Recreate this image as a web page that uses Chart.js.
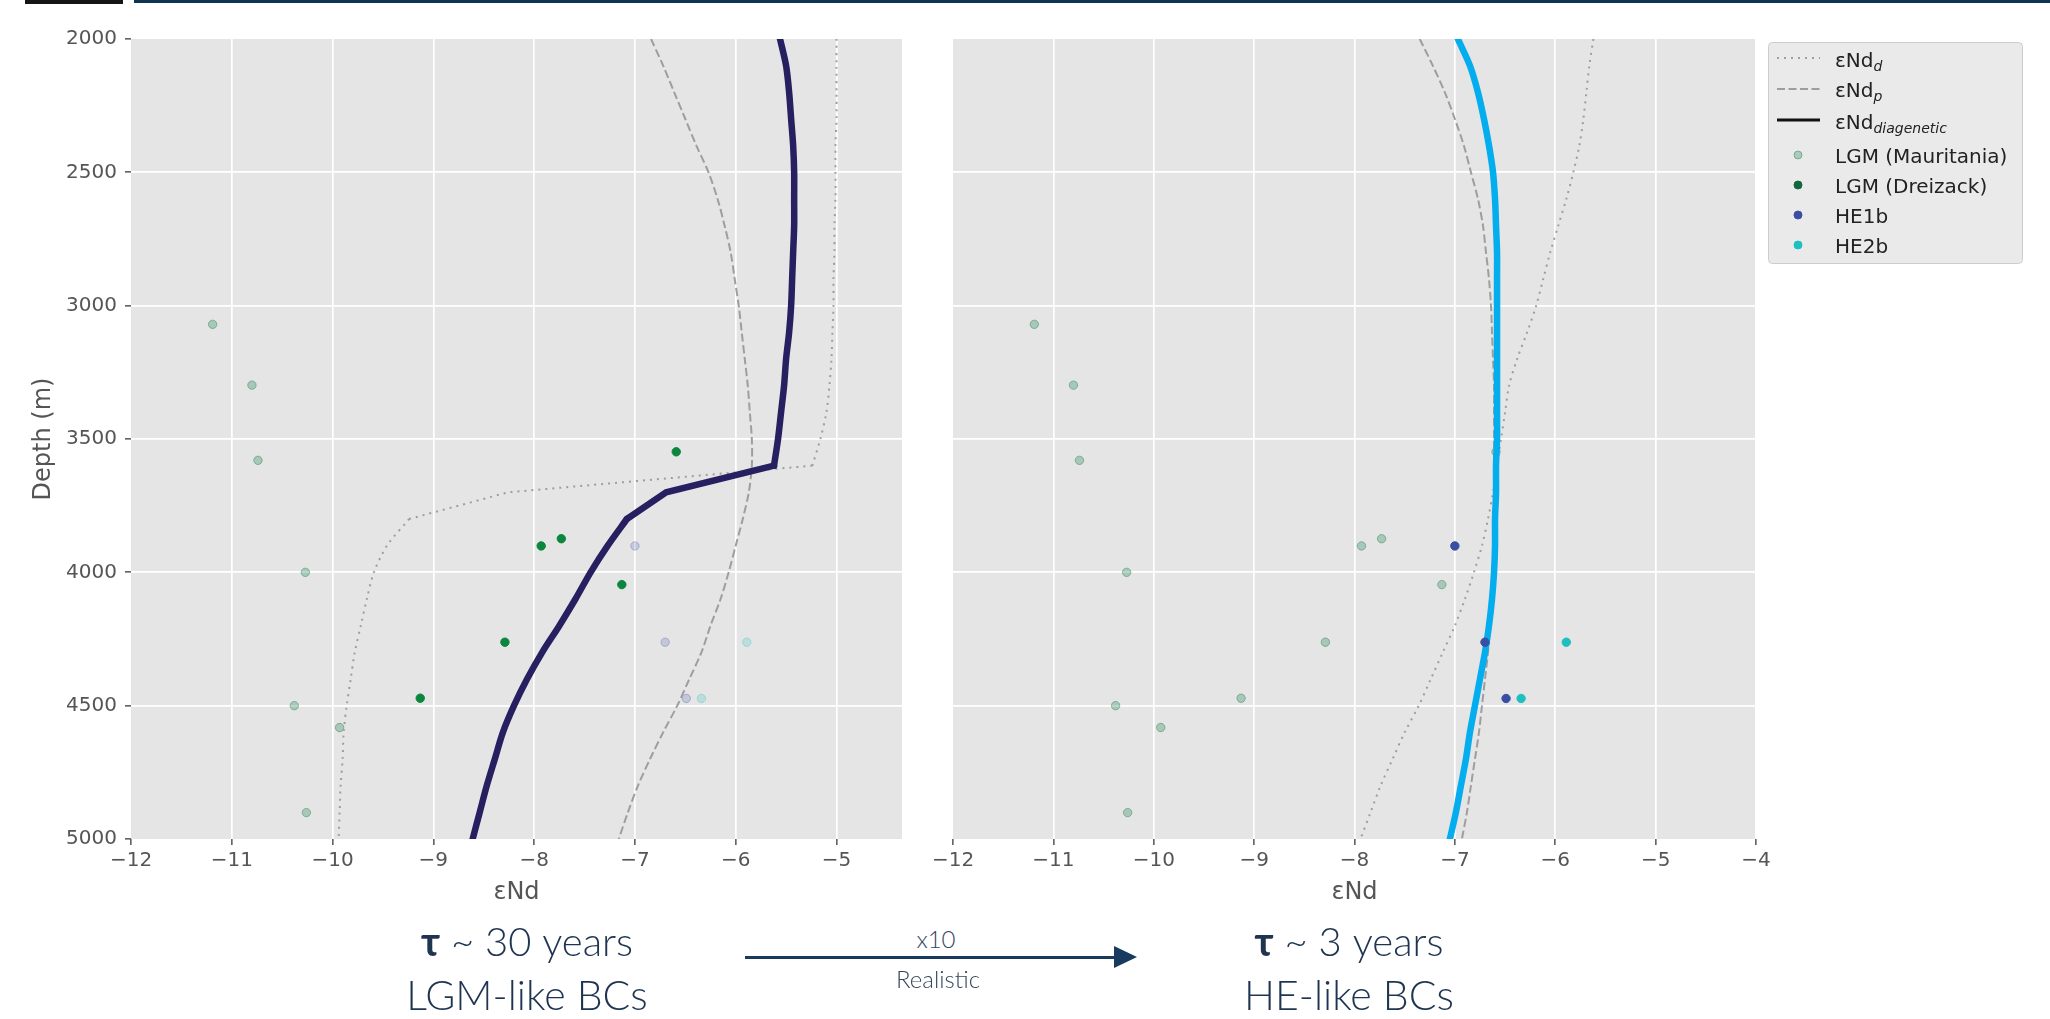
<!DOCTYPE html>
<html>
<head>
    <meta charset="utf-8" />
    <style>
        body { margin: 0; width: 2050px; height: 1019px; background: #fff; overflow: hidden; position: relative; font-family: 'DejaVu Sans', sans-serif; }
        canvas { position: absolute; top: 0; }
        .bar { position: absolute; top: 0; }
        .big { position: absolute; width: 500px; text-align: center; color: #1e3450; font-family: Lato, 'Open Sans', sans-serif; font-weight: 300; white-space: nowrap; }
        .small { position: absolute; width: 300px; text-align: center; color: #34465e; font-family: Lato, 'Open Sans', sans-serif; font-weight: 300; font-size: 24px; }
    </style>
</head>
<body>
    <!-- franja de arriba de la diapositiva -->
    <div class="bar" style="left:25px; width:98px; height:4px; background:#151515;"></div>
    <div class="bar" style="left:134px; width:1916px; height:3px; background:#0f3352;"></div>

    <canvas id="leftChart" width="910" height="920" style="left:0px;"></canvas>
    <canvas id="rightChart" width="1140" height="920" style="left:910px;"></canvas>

    <!-- textos de abajo -->
    <div class="big" style="left:277px; top:917px; font-size:40px;"><b style="font-weight:700;">τ</b> ~ 30 years</div>
    <div class="big" style="left:277px; top:970px; font-size:41px;">LGM-like BCs</div>
    <div class="big" style="left:1099px; top:917px; font-size:40px;"><b style="font-weight:700;">τ</b> ~ 3 years</div>
    <div class="big" style="left:1099px; top:970px; font-size:41px;">HE-like BCs</div>

    <div class="small" style="left:786px; top:924px;">x10</div>
    <div class="small" style="left:788px; top:964px;">Realistic</div>
    <div style="position:absolute; left:745px; top:956px; width:372px; height:3px; background:#173a5e;"></div>
    <div style="position:absolute; left:1114px; top:946px; width:0; height:0; border-top:11px solid transparent; border-bottom:11px solid transparent; border-left:23px solid #173a5e;"></div>

    <script src="https://cdn.jsdelivr.net/npm/chart.js"></script>
    <script type="text/javascript">
        // profundidades (m) de los perfiles
        var depth = [2000, 2100, 2200, 2300, 2400, 2500, 2600, 2700, 2800, 2900, 3000,
                     3100, 3200, 3300, 3400, 3500, 3600, 3700, 3800, 3900, 4000,
                     4100, 4200, 4300, 4400, 4500, 4600, 4700, 4800, 4900, 5000];

        // panel izquierdo (LGM, tau ~ 30 anos)
        var dLGM = [-5.00, -5.00, -5.00, -5.00, -5.01, -5.01, -5.01, -5.02, -5.02, -5.03, -5.03,
                    -5.04, -5.05, -5.07, -5.10, -5.16, -5.24, -8.26, -9.24, -9.46, -9.59,
                    -9.66, -9.72, -9.78, -9.82, -9.86, -9.89, -9.90, -9.92, -9.93, -9.94];
        var pLGM = [-6.84, -6.72, -6.61, -6.50, -6.39, -6.27, -6.18, -6.11, -6.05, -6.01, -5.97,
                    -5.94, -5.91, -5.88, -5.86, -5.84, -5.84, -5.87, -5.93, -6.00, -6.07,
                    -6.15, -6.25, -6.34, -6.46, -6.58, -6.72, -6.85, -6.97, -7.07, -7.16];
        var diagLGM = [-5.56, -5.50, -5.47, -5.45, -5.43, -5.42, -5.42, -5.42, -5.43, -5.44, -5.45,
                       -5.47, -5.50, -5.52, -5.55, -5.58, -5.62, -6.69, -7.08, -7.27, -7.44,
                       -7.59, -7.75, -7.92, -8.07, -8.20, -8.31, -8.39, -8.47, -8.54, -8.61];

        // panel derecho (HE, tau ~ 3 anos)
        var dHE = [-5.62, -5.66, -5.69, -5.72, -5.76, -5.82, -5.89, -5.97, -6.05, -6.12, -6.19,
                   -6.28, -6.38, -6.46, -6.50, -6.54, -6.58, -6.62, -6.67, -6.73, -6.81,
                   -6.90, -7.00, -7.12, -7.24, -7.36, -7.50, -7.62, -7.74, -7.84, -7.94];
        var pHE = [-7.35, -7.22, -7.10, -7.00, -6.91, -6.84, -6.77, -6.72, -6.69, -6.66, -6.64,
                   -6.63, -6.62, -6.61, -6.61, -6.61, -6.61, -6.61, -6.61, -6.61, -6.62,
                   -6.63, -6.65, -6.67, -6.70, -6.73, -6.76, -6.80, -6.84, -6.88, -6.93];
        var diagHE = [-6.97, -6.85, -6.77, -6.71, -6.66, -6.62, -6.60, -6.59, -6.58, -6.58, -6.58,
                      -6.58, -6.58, -6.58, -6.58, -6.58, -6.59, -6.59, -6.60, -6.60, -6.61,
                      -6.63, -6.66, -6.70, -6.75, -6.80, -6.85, -6.89, -6.94, -6.99, -7.05];

        // datos de los nucleos
        var mauX = [-11.19, -10.80, -10.74, -10.27, -10.38, -9.93, -10.26];
        var mauY = [3070, 3298, 3580, 4000, 4500, 4582, 4901];
        var dreX = [-6.59, -7.93, -7.73, -7.13, -8.29, -9.13];
        var dreY = [3548, 3901, 3874, 4046, 4262, 4472];
        var he1X = [-7.00, -6.70, -6.49];
        var he1Y = [3901, 4262, 4473];
        var he2X = [-5.89, -6.34];
        var he2Y = [4262, 4473];

        var xTicks = [-12, -11, -10, -9, -8, -7, -6, -5, -4];
        var yTicks = [2000, 2500, 3000, 3500, 4000, 4500, 5000];

        Chart.defaults.font.family = "'DejaVu Sans', sans-serif";

        var faded = 'rgba(30,130,80,0.3)';
        var fadedEdge = 'rgba(30,130,80,0.45)';

        function pares(xs, ys) {
            return xs.map(function (v, i) { return { x: v, y: ys[i] }; });
        }

        function puntos(label, xs, ys, fill, edge) {
            return {
                label: label, data: pares(xs, ys), showLine: false,
                pointRadius: 4.2, pointBackgroundColor: fill, pointBorderColor: edge, pointBorderWidth: 1
            };
        }

        // un tramo del perfil (desde..hasta son indices de depth)
        function tramo(label, vals, desde, hasta, color, width, dash, tension) {
            return {
                label: label,
                data: pares(vals.slice(desde, hasta + 1), depth.slice(desde, hasta + 1)),
                showLine: true, pointRadius: 0,
                borderColor: color, borderWidth: width, borderDash: dash, tension: tension,
                borderCapStyle: dash.length ? 'butt' : 'round', borderJoinStyle: 'miter'
            };
        }

        // fondo gris del area de la grafica
        var fondo = {
            id: 'fondo',
            beforeDraw: function (chart) {
                var a = chart.chartArea, ctx = chart.ctx;
                ctx.save();
                ctx.fillStyle = '#e5e5e5';
                ctx.fillRect(a.left, a.top, a.right - a.left, a.bottom - a.top);
                ctx.restore();
            }
        };

        function menos(v) {
            return String(v).replace('-', '\u2212');
        }

        function escalas(xMax, yWidth, showY) {
            return {
                x: {
                    type: 'linear', min: -12, max: xMax,
                    afterFit: function (s) { s.height = 81; },
                    afterBuildTicks: function (s) {
                        s.ticks = xTicks.filter(function (t) { return t <= xMax; }).map(function (t) { return { value: t }; });
                    },
                    ticks: { color: '#555', font: { size: 20 }, padding: 4, maxRotation: 0, autoSkip: false, callback: menos },
                    grid: {
                        color: function (c) { return c.tick && c.tick.value === -12 ? 'rgba(0,0,0,0)' : '#ffffff'; },
                        lineWidth: 1.7, tickColor: '#555', tickLength: 6, tickWidth: 1.5
                    },
                    border: { display: false },
                    title: { display: true, text: 'εNd', color: '#555', font: { size: 24 }, padding: { top: 0, bottom: 13 } }
                },
                y: {
                    type: 'linear', min: 2000, max: 5000, reverse: true,
                    afterFit: function (s) { s.width = yWidth; },
                    afterBuildTicks: function (s) {
                        s.ticks = yTicks.map(function (t) { return { value: t }; });
                    },
                    ticks: { display: showY, color: '#555', font: { size: 20 }, padding: 8, callback: function (v) { return String(v); } },
                    grid: {
                        color: function (c) { return c.tick && (c.tick.value === 2000 || c.tick.value === 5000) ? 'rgba(0,0,0,0)' : '#ffffff'; },
                        lineWidth: 1.7, tickColor: '#555', tickLength: 6, tickWidth: 1.5, drawTicks: showY
                    },
                    border: { display: false },
                    title: { display: showY, text: 'Depth (m)', color: '#555', font: { size: 24 }, padding: { top: 29, bottom: 0 } }
                }
            };
        }

        // Grafica izquierda (el orden del arreglo = de arriba hacia abajo al dibujar)
        new Chart(document.getElementById('leftChart'), {
            type: 'scatter',
            data: {
                datasets: [
                    puntos('LGM (Dreizack)', dreX, dreY, '#0a873d', '#0a873d'),
                    tramo('diag', diagLGM, 0, 16, '#261f60', 6.5, [], 0.3),
                    tramo('diag', diagLGM, 16, 18, '#261f60', 6.5, [], 0),
                    tramo('diag', diagLGM, 18, 30, '#261f60', 6.5, [], 0.3),
                    tramo('p', pLGM, 0, 30, '#9e9e9e', 2, [8, 3.5], 0.3),
                    tramo('d', dLGM, 0, 16, '#9e9e9e', 2, [2, 5], 0.3),
                    tramo('d', dLGM, 16, 18, '#9e9e9e', 2, [2, 5], 0),
                    tramo('d', dLGM, 18, 30, '#9e9e9e', 2, [2, 5], 0.3),
                    puntos('HE2b', he2X, he2Y, 'rgba(30,191,192,0.2)', 'rgba(30,191,192,0.3)'),
                    puntos('HE1b', he1X, he1Y, 'rgba(58,79,163,0.2)', 'rgba(58,79,163,0.3)'),
                    puntos('LGM (Mauritania)', mauX, mauY, faded, fadedEdge)
                ]
            },
            options: {
                responsive: false, animation: false,
                layout: { padding: { top: 39, right: 8, left: 0, bottom: 0 } },
                plugins: { legend: { display: false }, tooltip: { enabled: false } },
                scales: escalas(-4.35, 131, true)
            },
            plugins: [fondo]
        });

        // leyenda dibujada a mano (por los subindices)
        var leyenda = {
            id: 'leyenda',
            afterDraw: function (chart) {
                var ctx = chart.ctx;
                var ox = 1768 - 910;
                ctx.save();
                ctx.beginPath();
                ctx.roundRect(ox + 0.5, 42.5, 254, 221, 4);
                ctx.fillStyle = 'rgba(229,229,229,0.8)';
                ctx.fill();
                ctx.strokeStyle = '#cccccc';
                ctx.lineWidth = 1;
                ctx.stroke();

                var x0 = ox + 9, x1 = ox + 52, tx = ox + 67, mx = ox + 30;
                // muestras de linea
                var lineas = [
                    { y: 58, color: '#9e9e9e', w: 2, dash: [2, 5], base: 67, sub: 'd' },
                    { y: 89, color: '#9e9e9e', w: 2, dash: [8, 3.5], base: 97, sub: 'p' },
                    { y: 120, color: '#111111', w: 3, dash: [], base: 129, sub: 'diagenetic' }
                ];
                lineas.forEach(function (l) {
                    ctx.beginPath();
                    ctx.setLineDash(l.dash);
                    ctx.strokeStyle = l.color;
                    ctx.lineWidth = l.w;
                    ctx.moveTo(x0, l.y);
                    ctx.lineTo(x1, l.y);
                    ctx.stroke();
                    ctx.setLineDash([]);
                    ctx.fillStyle = '#222';
                    ctx.textBaseline = 'alphabetic';
                    ctx.font = "20px 'DejaVu Sans'";
                    ctx.fillText('εNd', tx, l.base);
                    var w = ctx.measureText('εNd').width;
                    ctx.font = "italic 14px 'DejaVu Sans'";
                    ctx.fillText(l.sub, tx + w, l.base + 4);
                });
                // muestras de puntos
                var marcas = [
                    { y: 155, text: 'LGM (Mauritania)', fill: faded, edge: fadedEdge },
                    { y: 185, text: 'LGM (Dreizack)', fill: '#12683c', edge: '#12683c' },
                    { y: 215, text: 'HE1b', fill: '#3a4fa3', edge: '#3a4fa3' },
                    { y: 245, text: 'HE2b', fill: '#1ebfc0', edge: '#1ebfc0' }
                ];
                marcas.forEach(function (m) {
                    ctx.beginPath();
                    ctx.arc(mx, m.y, 4, 0, Math.PI * 2);
                    ctx.fillStyle = m.fill;
                    ctx.fill();
                    ctx.strokeStyle = m.edge;
                    ctx.lineWidth = 1;
                    ctx.stroke();
                    ctx.fillStyle = '#222';
                    ctx.font = "20px 'DejaVu Sans'";
                    ctx.fillText(m.text, tx, m.y + 8);
                });
                ctx.restore();
            }
        };

        // Grafica derecha
        new Chart(document.getElementById('rightChart'), {
            type: 'scatter',
            data: {
                datasets: [
                    puntos('HE2b', he2X, he2Y, '#1ebfc0', '#1ebfc0'),
                    puntos('HE1b', he1X, he1Y, '#3a4fa3', '#3a4fa3'),
                    tramo('diag', diagHE, 0, 30, '#03adee', 6.5, [], 0.3),
                    tramo('p', pHE, 0, 30, '#9e9e9e', 2, [8, 3.5], 0.3),
                    tramo('d', dHE, 0, 30, '#9e9e9e', 2, [2, 5], 0.3),
                    puntos('LGM (Dreizack)', dreX, dreY, faded, fadedEdge),
                    puntos('LGM (Mauritania)', mauX, mauY, faded, fadedEdge)
                ]
            },
            options: {
                responsive: false, animation: false,
                layout: { padding: { top: 39, right: 294, left: 0, bottom: 0 } },
                plugins: { legend: { display: false }, tooltip: { enabled: false } },
                scales: escalas(-4, 43, false)
            },
            plugins: [fondo, leyenda]
        });
    </script>
</body>
</html>
